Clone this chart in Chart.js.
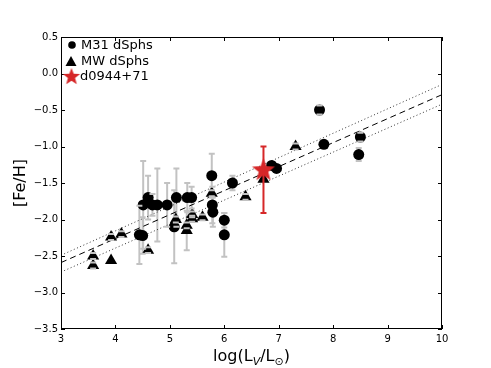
<!DOCTYPE html>
<html>
<head>
<meta charset="utf-8">
<script src="https://cdn.jsdelivr.net/npm/chart.js@4"></script>
<style>
  html, body { margin: 0; padding: 0; background: #fff; }
  canvas { display: block; }
</style>
</head>
<body>
<canvas id="chart" width="491" height="368"></canvas>
<script>
"use strict";

// ─── Data ─────────────────────────────────────────────────────
const m31X   = [4.44, 4.50, 4.51, 4.60, 4.68, 4.77, 4.95, 5.08, 5.12, 5.32, 5.40, 5.78, 5.79, 5.77, 6.00, 6.00, 6.15, 6.87, 6.96, 7.75, 7.83, 8.47, 8.50];
const m31Y   = [-2.21, -2.22, -1.80, -1.70, -1.80, -1.80, -1.80, -2.10, -1.70, -1.70, -1.70, -1.80, -1.90, -1.40, -2.01, -2.21, -1.50, -1.26, -1.30, -0.50, -0.97, -1.11, -0.87];
const m31Err = [0.40, 0.25, 0.60, 0.30, 0.15, 0.50, 0.30, 0.50, 0.40, 0.20, 0.15, 0.25, 0.20, 0.30, 0.10, 0.30, 0.10, 0.00, 0.00, 0.06, 0.00, 0.09, 0.06];

const mwX   = [3.59, 3.59, 3.92, 3.92, 4.11, 4.60, 5.11, 5.31, 5.31, 5.41, 5.41, 5.60, 5.77, 6.39, 6.72, 7.31];
const mwY   = [-2.50, -2.63, -2.24, -2.56, -2.20, -2.42, -2.00, -2.15, -2.08, -1.99, -1.93, -1.97, -1.64, -1.69, -1.45, -1.00];
const mwErr = [0.04, 0.04, 0.04, 0.00, 0.04, 0.04, 0.04, 0.27, 0.04, 0.04, 0.04, 0.04, 0.04, 0.04, 0.00, 0.04];

const starX = 6.72;
const starY = -1.31;
const starErrHi = 0.31;
const starErrLo = 0.60;

const fitX   = [3, 10];
const fitY   = [-2.59, -0.29];
const upperY = [-2.49, -0.15];
const lowerY = [-2.72, -0.42];

const xTicks = [3, 4, 5, 6, 7, 8, 9, 10];
const yTicks = [-3.5, -3.0, -2.5, -2.0, -1.5, -1.0, -0.5, 0.0, 0.5];

// ─── Styling ──────────────────────────────────────────────────
const FONT = "'DejaVu Sans', sans-serif";
const RED = "#d62728";
const GREY = "#c2c2c2";

const pts = (xs, ys) => xs.map((x, i) => ({ x, y: ys[i] }));

// Filled five-point star used as a point style.
function makeStar(R, color) {
  const c = document.createElement("canvas");
  c.width = c.height = Math.ceil(2 * R + 2);
  const g = c.getContext("2d");
  const cx = c.width / 2, cy = c.height / 2 + R * 0.1;
  g.beginPath();
  for (let i = 0; i < 10; i++) {
    const r = i % 2 === 0 ? R : R * 0.42;
    const a = -Math.PI / 2 + (i * Math.PI) / 5;
    g.lineTo(cx + r * Math.cos(a), cy + r * Math.sin(a));
  }
  g.closePath();
  g.fillStyle = color;
  g.fill();
  return c;
}

const bigStar = makeStar(12, RED);
const smallStar = makeStar(9, RED);

// Error bars: stems behind the markers, caps on top (as matplotlib does).
function drawErrors(chart, layer) {
  const { ctx, scales: { x, y }, chartArea: a } = chart;
  const groups = [
    { xs: m31X, ys: m31Y, lo: m31Err, hi: m31Err, color: GREY, layer: "under" },
    { xs: mwX, ys: mwY, lo: mwErr, hi: mwErr, color: GREY, layer: "under" },
    { xs: [starX], ys: [starY], lo: [starErrLo], hi: [starErrHi], color: RED, layer: "over" },
  ];
  ctx.save();
  ctx.beginPath();
  ctx.rect(a.left, a.top, a.right - a.left, a.bottom - a.top);
  ctx.clip();
  ctx.lineWidth = 2;
  for (const g of groups) {
    ctx.strokeStyle = g.color;
    g.xs.forEach((xv, i) => {
      if (g.lo[i] === 0 && g.hi[i] === 0) return;
      const px = x.getPixelForValue(xv);
      const top = y.getPixelForValue(g.ys[i] + g.hi[i]);
      const bot = y.getPixelForValue(g.ys[i] - g.lo[i]);
      ctx.beginPath();
      if (layer === g.layer) {
        ctx.moveTo(px, top);
        ctx.lineTo(px, bot);
      }
      if (layer === "over") {
        ctx.moveTo(px - 3, top);
        ctx.lineTo(px + 3, top);
        ctx.moveTo(px - 3, bot);
        ctx.lineTo(px + 3, bot);
      }
      ctx.stroke();
    });
  }
  ctx.restore();
}

const errorBars = {
  id: "errorBars",
  beforeDatasetsDraw: (chart) => drawErrors(chart, "under"),
  afterDatasetsDraw: (chart) => drawErrors(chart, "over"),
};

// Frame, inward ticks on all four sides, legend and x-axis title.
const decorations = {
  id: "decorations",
  afterDraw(chart) {
    const { ctx, scales: { x, y }, chartArea: a } = chart;
    ctx.save();
    ctx.strokeStyle = "#000";
    ctx.lineWidth = 1;
    ctx.strokeRect(a.left + 0.5, a.top + 0.5, a.right - a.left - 1, a.bottom - a.top - 1);

    ctx.beginPath();
    for (const v of xTicks) {
      const px = Math.round(x.getPixelForValue(v)) + 0.5;
      ctx.moveTo(px, a.bottom); ctx.lineTo(px, a.bottom - 4);
      ctx.moveTo(px, a.top); ctx.lineTo(px, a.top + 4);
    }
    for (const v of yTicks) {
      const py = Math.round(y.getPixelForValue(v)) + 0.5;
      ctx.moveTo(a.left, py); ctx.lineTo(a.left + 4, py);
      ctx.moveTo(a.right, py); ctx.lineTo(a.right - 4, py);
    }
    ctx.stroke();

    // legend
    ctx.fillStyle = "#000";
    ctx.beginPath();
    ctx.arc(72, 45, 3.8, 0, Math.PI * 2);
    ctx.fill();
    ctx.beginPath();
    ctx.moveTo(71, 56); ctx.lineTo(76.5, 66); ctx.lineTo(65.5, 66);
    ctx.closePath();
    ctx.fill();
    ctx.drawImage(smallStar, 71.5 - smallStar.width / 2, 76 - smallStar.height / 2);
    ctx.font = `13px ${FONT}`;
    ctx.textBaseline = "middle";
    ctx.textAlign = "left";
    ctx.fillText("M31 dSphs", 81, 46);
    ctx.fillText("MW dSphs", 81, 62);
    ctx.fillText("d0944+71", 80, 77);

    // x title: log(L_V/L_⊙)
    const main = `16px ${FONT}`;
    const sub = `italic 11px ${FONT}`;
    const subU = `11px ${FONT}`;
    const parts = [
      { t: "log(L", f: main, dy: 0 },
      { t: "V", f: sub, dy: 4 },
      { t: "/L", f: main, dy: 0 },
      { t: "\u2299", f: subU, dy: 4 },
      { t: ")", f: main, dy: 0 },
    ];
    let w = 0;
    for (const p of parts) { ctx.font = p.f; p.w = ctx.measureText(p.t).width; w += p.w; }
    let cx = (a.left + a.right) / 2 - w / 2;
    ctx.textBaseline = "alphabetic";
    for (const p of parts) {
      ctx.font = p.f;
      ctx.fillText(p.t, cx, 361 + p.dy);
      cx += p.w;
    }
    ctx.restore();
  },
};

const tickFmt = (v) => (v < 0 ? "\u2212" : "") + Math.abs(v).toFixed(1);

new Chart(document.getElementById("chart"), {
  type: "scatter",
  data: {
    datasets: [
      {
        label: "d0944+71",
        data: [{ x: starX, y: starY }],
        pointStyle: bigStar,
        pointRadius: 12,
      },
      {
        label: "M31 dSphs",
        data: pts(m31X, m31Y),
        pointStyle: "circle",
        pointRadius: 5.5,
        backgroundColor: "#000",
        borderColor: "#000",
        borderWidth: 0,
      },
      {
        label: "MW dSphs",
        data: pts(mwX, mwY),
        pointStyle: "triangle",
        pointRadius: 7,
        backgroundColor: "#000",
        borderColor: "#000",
        borderWidth: 0,
      },
      {
        label: "fit",
        data: pts(fitX, fitY),
        showLine: true,
        pointRadius: 0,
        borderColor: "#000",
        borderWidth: 1,
        borderDash: [6, 4],
      },
      {
        label: "upper",
        data: pts(fitX, upperY),
        showLine: true,
        pointRadius: 0,
        borderColor: "#333",
        borderWidth: 1,
        borderDash: [1, 2.5],
      },
      {
        label: "lower",
        data: pts(fitX, lowerY),
        showLine: true,
        pointRadius: 0,
        borderColor: "#333",
        borderWidth: 1,
        borderDash: [1, 2.5],
      },
    ],
  },
  options: {
    responsive: false,
    animation: false,
    devicePixelRatio: 1,
    events: [],
    layout: { padding: { top: 37, right: 49, left: 0, bottom: 0 } },
    plugins: { legend: { display: false }, tooltip: { enabled: false } },
    scales: {
      x: {
        type: "linear",
        min: 3,
        max: 10,
        afterFit: (s) => { s.height = 39; },
        afterBuildTicks: (s) => { s.ticks = xTicks.map((v) => ({ value: v })); },
        grid: { display: false, drawTicks: false },
        border: { display: false },
        ticks: { color: "#000", font: { family: FONT, size: 10 }, padding: 4, maxRotation: 0, autoSkip: false },
      },
      y: {
        type: "linear",
        min: -3.5,
        max: 0.5,
        afterFit: (s) => { s.width = 61; },
        afterBuildTicks: (s) => { s.ticks = yTicks.map((v) => ({ value: v })); },
        grid: { display: false, drawTicks: false },
        border: { display: false },
        ticks: { color: "#000", font: { family: FONT, size: 10 }, padding: 3, callback: tickFmt },
        title: {
          display: true,
          text: "[Fe/H]",
          color: "#000",
          font: { family: FONT, size: 16 },
          padding: { top: 11, bottom: 0 },
        },
      },
    },
  },
  plugins: [errorBars, decorations],
});
</script>
</body>
</html>
